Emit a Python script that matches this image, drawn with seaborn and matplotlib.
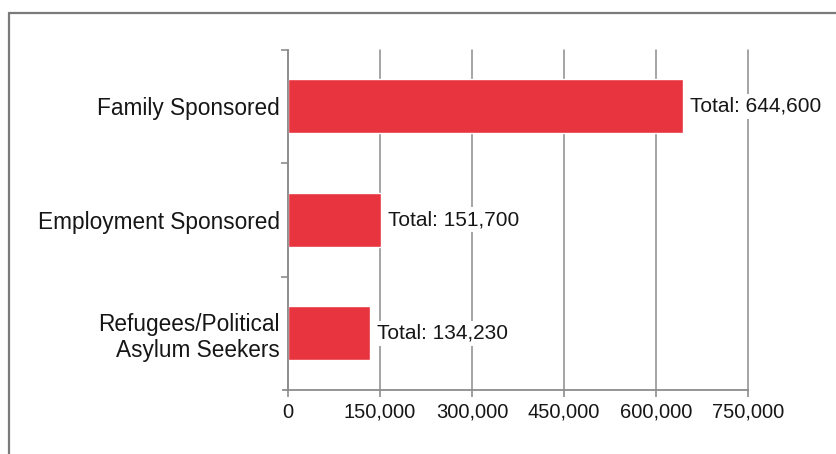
import matplotlib
matplotlib.use("Agg")
import matplotlib.pyplot as plt
from matplotlib.lines import Line2D
import pandas as pd
import seaborn as sns

# Immigrant admissions by category
categories = ["Family Sponsored", "Employment Sponsored", "Refugees/Political\nAsylum Seekers"]
totals = [644600, 151700, 134230]
value_labels = ["Total: 644,600", "Total: 151,700", "Total: 134,230"]
x_ticks = [0, 150000, 300000, 450000, 600000, 750000]
x_tick_labels = ["0", "150,000", "300,000", "450,000", "600,000", "750,000"]

sns.set_style("white")
plt.rcParams["font.family"] = ["Liberation Sans", "DejaVu Sans"]

BAR_RED = "#e8343f"
INK = "#161616"
GRID = "#8c8c8c"

df = pd.DataFrame({"category": categories, "total": totals})

W, H = 836, 454
fig = plt.figure(figsize=(W / 100, H / 100), dpi=100)
fig.patch.set_facecolor("white")

# axes box: x-axis line runs a little left of zero, left spine sits at zero
x_left_px, x_zero_px, x_right_px = 282.5, 288.0, 748.0
y_top_px, y_bot_px = 49.5, 390.0
ax = fig.add_axes([x_left_px / W, 1 - y_bot_px / H,
                   (x_right_px - x_left_px) / W, (y_bot_px - y_top_px) / H])

sns.barplot(data=df, x="total", y="category", orient="h", color=BAR_RED,
            saturation=1, width=0.48, ax=ax, zorder=2)

span = 750000 * (x_zero_px - x_left_px) / (x_right_px - x_zero_px)
ax.set_xlim(-span, 750000)
ax.set_ylim(2.5, -0.5)

ax.set_xticks(x_ticks)
ax.set_xticklabels(x_tick_labels, fontsize=14.5, color=INK)
ax.set_xlabel("")
ax.set_ylabel("")

# category labels
ax.tick_params(axis="y", which="major", length=0, pad=6, labelsize=16.3, labelcolor=INK)
for lab in ax.get_yticklabels():
    lab.set_linespacing(0.95)
# small boundary ticks on the category axis
ax.set_yticks([-0.5, 0.5, 1.5], minor=True)
ax.tick_params(axis="y", which="minor", direction="out", length=5, width=1.2, color=GRID, left=True)
ax.tick_params(axis="x", which="major", direction="out", length=5, width=1.2, color=GRID,
               pad=4, bottom=True)

for side in ["top", "right"]:
    ax.spines[side].set_visible(False)
ax.spines["left"].set_position(("data", 0))
for side in ["left", "bottom"]:
    ax.spines[side].set_color(GRID)
    ax.spines[side].set_linewidth(1.3)

ax.xaxis.grid(True, color=GRID, linewidth=1.1, zorder=0)
ax.set_axisbelow(True)
for gl in ax.get_xgridlines():
    gl.set_clip_on(False)

# value labels beside each bar
for i, (v, txt) in enumerate(zip(totals, value_labels)):
    ax.text(v + 11000, i, txt, ha="left", va="center", fontsize=15, color=INK, zorder=3,
            bbox=dict(boxstyle="square,pad=0.15", facecolor="white", edgecolor="none"))

# outer frame of the figure panel
frame_kw = dict(color="#7a7a7a", linewidth=1.6, transform=fig.transFigure)
fig.add_artist(Line2D([8.5 / W, 1.0], [1 - 13 / H, 1 - 13 / H], **frame_kw))
fig.add_artist(Line2D([8.5 / W, 8.5 / W], [1 - 13 / H, 0.0], **frame_kw))

fig.savefig("out.png", dpi=100, facecolor="white")
